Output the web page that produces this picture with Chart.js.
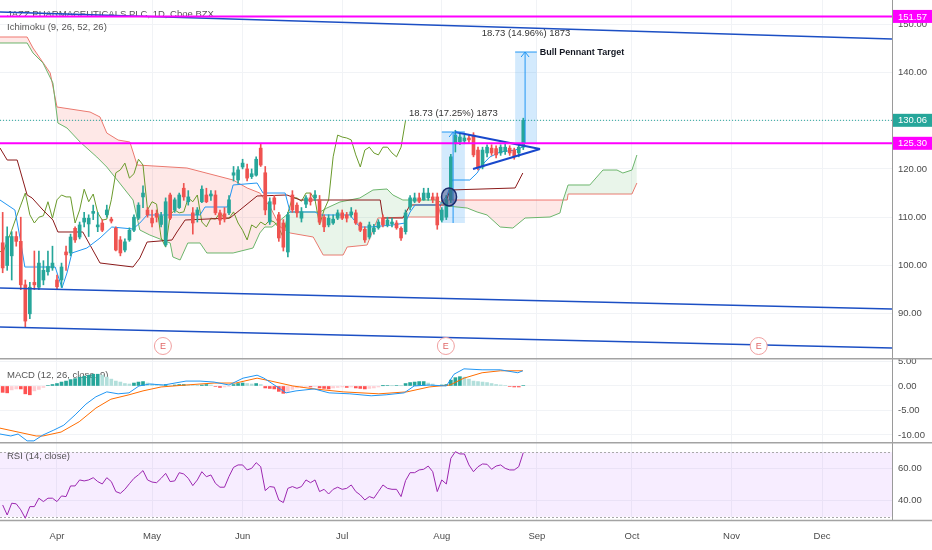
<!DOCTYPE html>
<html><head><meta charset="utf-8">
<script src="https://cdn.jsdelivr.net/npm/chart.js@4.4.0/dist/chart.umd.min.js"></script>
<style>
html,body{margin:0;padding:0;background:#fff;}
#wrap{position:relative;width:932px;height:550px;overflow:hidden;background:#fff;}
canvas{position:absolute;left:0;}
</style></head><body>
<div id="wrap">
<canvas id="cPrice" width="932" height="358" style="top:0;width:932px;height:358px"></canvas>
<canvas id="cMacd" width="932" height="84" style="top:358px;width:932px;height:84px"></canvas>
<canvas id="cRsi" width="932" height="108" style="top:442px;width:932px;height:108px"></canvas>
</div>
<script>
// ---------------- DATA ----------------
const titleText = 'JAZZ PHARMACEUTICALS PLC, 1D, Cboe BZX';
const ichimokuText = 'Ichimoku (9, 26, 52, 26)';
const macdText = 'MACD (12, 26, close, 9)';
const rsiText = 'RSI (14, close)';

const monthTickIdx = [0, 21, 41, 63, 85, 106, 127, 149, 169];
const monthLabels = ['Apr', 'May', 'Jun', 'Jul', 'Aug', 'Sep', 'Oct', 'Nov', 'Dec'];
const xMin = -12.59, xMax = 184.45;

const priceTicks = [90, 100, 110, 120, 130, 140, 150];
const macdTicks = [-10, -5, 0, 5];
const rsiTicks = [40, 60];
const rsiBand = [30, 70];

const candleStart = -12;
const opens = [104.7,100,102,106,105,96,90,96.5,95.5,97,98.7,99.5,
 97,97,102.8,102.6,107.7,105.9,109,108.6,110.8,108,
 108.8,110.5,109.6,107.7,105.3,103.2,105.3,107.3,109.8,114.2,
 111.5,109.8,110.8,108.5,104.3,114.6,111.5,112,116,113.2,
 110.9,110.5,113.2,114.6,114.4,114.6,110.9,110.7,110.9,118.7,
 117.7,120.4,120,118.4,118.7,124.3,119.2,109,114,110.5,
 108.8,102.8,114.6,112.5,109.8,112.7,114,114,113.6,110,
 108.4,108.8,109.8,110.9,110.5,110.5,110.9,108.8,107.5,105.9,
 107,107.8,109.8,108.4,108.6,108.8,107.7,107,112.1,113.3,
 114,113.6,114,114.2,114.2,109.4,110,113.6,125.2,125.6,
 125.8,126.4,127,123.9,120.4,123.3,124.3,124.2,123.3,123.6,
 124.3,123.9,123.3,124.5];
const highs = [111,108,107,107,110,97,96.5,103,103,101,103,104,
 98,100.5,104,106.5,108,109,111,110.5,112.5,111,
 109.5,112.5,110,108,106,105.5,107.8,110.5,113,116.5,
 112,111.5,111.5,111,114,115,114,115,117,115.5,
 112,112,116.5,116,115.5,115.5,111.5,112,114.5,120.5,
 120.5,122,121,120,122.5,125.2,120.5,114,114.5,111,
 109.5,111,115.5,113,112,114.5,115,115.5,114.5,110.5,
 110.5,110.5,111.5,111.5,111,112,111.5,109,108,109,
 108.5,109.5,110.5,110,109.8,109.3,108,111.5,114.5,115,
 115,116,116,115,115,112,114.5,123,128,127.5,
 127,127,127.5,124.5,124.5,125,125,124.8,125,125.2,
 124.8,124.3,125,130.5];
const lows = [98.5,99,97,104,95,87.3,89,95,95,96,98,99,
 95,95.5,99,102,104.8,105.5,108,106,109.5,107,
 107,110,108.8,103,102,102.8,105,107,109.5,112,
 110,108,109,108,104,109.5,111,111.8,113.5,112.5,
 106.5,109,113,113,113.5,110.5,108.5,109,110.5,117.5,
 117,120,117.5,118,118.5,120.5,110.5,108.5,111.5,105,
 103,101.8,111,110,109,112,112.5,113.5,108.5,107,
 108,108.5,109.5,109.5,109,110,108.5,107,104.8,105.5,
 106.5,107.5,108,108,108,107.5,105.2,106.5,111.5,113,
 113,113.5,113.5,113,107.5,109,109.5,113,123.5,125,
 125.2,125.5,122.5,119.8,120,122.5,122.8,122.3,122.8,123,
 122.8,122,122.5,124];
const closes = [99.5,106,106,105,96,88.5,95.5,96,100.5,99,99.8,100.5,
 95.6,99.7,102.2,105.9,105.3,108.4,109.8,109.8,111.2,108.4,
 107.3,111.5,109.2,103.2,102.6,104.9,107.3,110,112.5,115,
 110.5,108.8,110,110.3,113.2,109.8,113.6,114.6,114.2,114.2,
 108.8,111.5,115.8,113.2,114.8,110.9,109.4,109.6,113.6,119.2,
 119.8,121.2,118.1,119,122,120.8,111.5,113.2,112.7,105.7,
 103.8,110.5,111.5,110.9,111.1,114,113.2,114.6,109,108,
 109.8,109.6,110.9,109.8,109.8,111.1,108.8,107.3,105.3,108.4,
 107.8,109,108.4,109.4,109,107.8,105.7,110.9,114,114,
 113.3,115,115,113.6,108.4,111.5,113.6,122.5,127,126.6,
 126.4,126,122.9,120.4,123.9,124.5,123.3,122.9,124.5,124.5,
 123.3,122.5,124.5,130.06];

// Ichimoku lines read as [bar index, price] vertices
const tenkan = [[-12.6,113.56],[-9.3,111.49],[-8.2,105.9],[-7.1,99.69],[-0.4,99.69],[1.1,95.34],[2.2,98.45],[3.3,102.59],[6.6,103.62],[9.5,105.69],[12.1,107.97],[16.8,107.56],[18.3,108.8],[19.9,110.46],[31.6,110.46],[32.7,112.11],[37.6,112.11],[38.9,116.67],[44.2,117.08],[45.5,115.01],[50.4,115.01],[51.5,111.08],[57.0,111.08],[58.1,110.46],[64.7,110.46],[66.9,107.97],[69.1,107.97],[74.2,108.39],[76.9,108.8],[78.0,111.08],[79.1,112.53],[84.6,112.53],[86.2,114.6],[87.3,117.7],[91.2,117.7],[92.8,119.15],[93.9,120.81],[95.6,122.46],[97.9,123.5],[101.2,123.91],[102.9,124.53]];
const kijun = [[-12.6,124.33],[-11.0,121.84],[-8.8,121.84],[-6.6,114.6],[-5.5,113.98],[-3.1,111.49],[-0.9,109.42],[0.2,106.94],[5.7,106.94],[9.5,100.52],[16.8,99.69],[18.3,101.55],[19.9,104.86],[25.4,105.28],[26.5,106.94],[28.3,109.42],[38.2,109.83],[40.4,111.49],[44.2,114.39],[50.8,114.6],[53.7,113.56],[71.4,113.56],[72.0,109.83],[76.4,109.83],[78.0,112.53],[85.7,112.53],[86.8,115.63],[101.2,116.05],[102.9,119.15]];
const spanA = [[-12.6,146.07],[-6.6,146.07],[-5.3,144.0],[-3.1,141.93],[-0.9,137.78],[0.2,129.5],[2.2,128.47],[5.1,125.57],[8.8,122.46],[11.0,120.39],[13.3,117.7],[16.8,113.56],[18.3,107.35],[20.5,106.31],[25.0,104.66],[25.6,101.76],[27.2,101.14],[28.9,104.66],[31.6,104.66],[33.1,102.59],[38.9,102.59],[43.3,103.62],[44.8,106.73],[45.9,107.97],[47.5,107.97],[51.5,111.08],[58.1,111.08],[59.6,111.9],[62.5,113.15],[66.9,113.98],[69.8,115.63],[72.9,115.84],[74.2,114.6],[76.4,113.56],[83.9,113.56],[86.2,112.32],[90.6,111.9],[92.8,111.08],[95.0,110.46],[97.9,107.97],[100.7,107.76],[103.4,109.83],[108.9,110.04],[111.1,110.87],[111.8,113.56],[112.9,116.67],[117.7,116.67],[120.6,119.77],[123.7,119.77],[125.0,119.15],[127.0,119.77],[128.1,122.88]];
const spanB = [[-12.6,147.31],[-6.6,147.31],[-5.3,145.03],[-1.5,139.86],[0,132.82],[7.3,131.78],[9.5,130.75],[11.0,127.43],[13.5,125.98],[16.1,125.57],[17.7,120.81],[28.7,120.19],[38.9,117.7],[42.0,116.05],[44.8,115.01],[47.1,112.11],[49.3,107.97],[51.5,106.73],[56.6,105.9],[58.8,102.17],[63.2,102.17],[64.1,103.83],[68.5,104.24],[70.9,109.83],[78.0,110.04],[84.2,110.04],[85.0,113.56],[112.7,113.56],[112.9,114.8],[127.0,114.8],[128.1,117.08]];
const chikouShift = 26;

// MACD lines as [bar index, value] vertices; histogram per bar
const macdLine = [[-12.6,-9.8],[-10.2,-10.2],[-8.6,-9.8],[-6.6,-11.2],[-5.1,-11.2],[-3.1,-10],[-0.7,-9],[1.5,-8],[4.0,-5.9],[6.4,-3.7],[8.6,-2.2],[11,-1.2],[13.5,-1.6],[15.9,-1.4],[18.1,0],[20.5,0.4],[23.6,0.2],[28.5,1.0],[31.6,1.0],[34.7,0.8],[38,0.2],[41.1,1.6],[44.2,2.2],[45.7,1.6],[49,-0.4],[50.6,-1.4],[52.8,-1.0],[56.8,-0.6],[60.1,-1.4],[64.7,-1.6],[69.4,-2.0],[72.7,-1.8],[76.7,-1.4],[78.9,0],[82.2,0.2],[86,0],[87.7,2.4],[89.9,3.5],[93.9,3.3],[97.9,3.3],[101.8,2.7],[102.9,3.1]];
const signalLine = [[-12.6,-8.6],[-8.6,-9.4],[-4.6,-10.2],[-3.1,-10.2],[0.9,-9.4],[4.9,-7.3],[8.6,-4.5],[11.9,-2.7],[15.9,-1.8],[19,-1.0],[23,-0.2],[28.5,0.2],[34.7,0.6],[39.5,0.6],[44.2,1.6],[47.3,1.0],[52.1,0],[56.8,-0.6],[63.2,-1.2],[71.1,-1.6],[77.3,-1.2],[82.2,-0.2],[86.8,0.2],[89.9,1.6],[93.9,2.7],[97.9,3.1],[102.9,3.1]];
const hist = [-1.3,-1.4,-0.8,-0.6,-0.6,-1.6,-1.8,-1.0,-0.7,-0.3,0.1,0.3,
 0.5,0.8,1.0,1.3,1.5,1.8,2.0,2.2,2.4,2.4,
 2.2,1.8,1.4,1.0,0.8,0.5,0.4,0.6,0.8,0.9,
 0.6,0.4,0.3,0.2,0.3,0.1,0.2,0.3,0.3,0.2,
 0.1,0.05,0.2,0.3,0.2,-0.1,-0.3,-0.2,-0.1,0.3,
 0.5,0.6,0.5,0.4,0.5,0.3,-0.4,-0.5,-0.6,-1.1,
 -1.5,-1.1,-0.7,-0.4,-0.3,-0.1,-0.2,-0.1,-0.4,-0.5,
 -0.6,-0.4,-0.3,-0.2,-0.3,-0.2,-0.4,-0.5,-0.6,-0.5,
 -0.4,-0.2,0.05,0.1,0.05,0.1,0.05,0.5,0.7,0.8,
 0.9,0.9,0.6,0.4,0.1,0.2,0.3,1.2,1.7,1.9,
 1.8,1.4,1.0,0.9,0.8,0.7,0.5,0.3,0.2,0.1,
 -0.1,-0.2,-0.2,0.1];
const rsi = [37.3,31.1,38.4,38.0,34.3,29.1,36.3,36.3,41.5,39.4,41.5,41.5,
 39.4,42.9,42.5,49.1,49.1,52.8,52.2,52.8,54.2,51.8,
 50.3,54.2,51.8,45.6,44.5,47.0,50.5,53.8,56.0,58.6,
 52.8,51.5,51.1,53.8,56.9,51.8,52.2,57.3,56.5,53.8,
 49.3,52.8,57.9,54.8,55.9,50.7,48.3,48.3,55.0,60.6,
 62.1,62.1,59.0,60.0,63.5,61.0,46.2,48.7,48.3,40.4,
 38.8,47.6,48.7,47.6,48.7,52.8,51.1,52.8,45.6,47.0,
 44.1,47.0,48.3,47.0,47.6,49.7,45.6,43.5,40.4,42.5,
 41.5,45.6,49.7,47.6,47.0,47.0,42.5,52.4,57.3,57.3,
 59.0,59.4,61.4,57.9,45.6,52.8,50.3,66.2,70.3,68.9,
 68.9,62.1,57.9,61.0,62.7,62.5,59.4,61.4,62.1,60.0,
 59.0,59.0,61.0,69.7];

// Drawings (in bar index / price units)
const levels = [151.57, 125.30];
const lastPrice = 130.06;
const channels = [[[-12.59,152.5],[184.45,146.9]], [[-12.59,95.34],[184.45,91.0]], [[-12.59,87.27],[184.45,82.92]]];
const pennantTop = [[87.9,127.64],[106.7,124.12]];
const pennantBottom = [[91.9,119.98],[106.7,124.12]];
const measureRects = [[85.0,90.1,108.8,127.64],[101.2,106.0,125.36,144.2]];
const measureArrowIdx = [87.5, 103.4];
const measureLabels = ['18.73 (17.25%) 1873', '18.73 (14.96%) 1873'];
const targetLabel = 'Bull Pennant Target';
const circleMark = [86.6, 114.2];
const earningsIdx = [23.4, 85.9, 155.0];

// ---------------- STYLE / HELPERS ----------------
const FONT = '"Liberation Sans", Arial, sans-serif';
const GRID = '#f1f3f6';
const AXIS_TXT = '#4b4b4b';
const GREEN = '#26a69a', RED = '#ef5350';
const candleIdx = closes.map((_, k) => candleStart + k);
const P = arr => arr.map(p => ({x: p[0], y: p[1]}));
const lineDS = (data, color, width, extra) => Object.assign({type: 'line', data, borderColor: color, borderWidth: width, pointRadius: 0, fill: false, tension: 0}, extra || {});

function xAxis(showLabels) {
  return {
    type: 'linear', min: xMin, max: xMax, offset: false,
    grid: {color: GRID, drawTicks: false, offset: false},
    border: {display: false},
    afterBuildTicks: s => { s.ticks = monthTickIdx.map(v => ({value: v})); },
    afterFit: s => { s.height = showLabels ? 30 : 0; s.paddingLeft = 0; s.paddingRight = 0; },
    ticks: {display: showLabels, autoSkip: false, maxRotation: 0, padding: 11, color: AXIS_TXT,
      font: {family: FONT, size: 9.5},
      callback: v => { const k = monthTickIdx.indexOf(v); return k >= 0 ? monthLabels[k] : ''; }}
  };
}
function yAxis(min, max, ticks) {
  return {
    position: 'right', min, max,
    grid: {color: GRID, drawTicks: false},
    border: {display: true, color: '#9a9a9a'},
    afterBuildTicks: s => { s.ticks = ticks.map(v => ({value: v})); },
    afterFit: s => { s.width = 40; s.paddingTop = 0; s.paddingBottom = 0; },
    ticks: {padding: 6, color: AXIS_TXT, font: {family: FONT, size: 9.5}, callback: v => Number(v).toFixed(2)}
  };
}
const common = {
  responsive: false, maintainAspectRatio: false, animation: false, events: [],
  layout: {padding: 0},
  plugins: {legend: {display: false}, tooltip: {enabled: false}}
};
function separator(ctx, y) {
  ctx.save(); ctx.strokeStyle = '#a3a3a3'; ctx.lineWidth = 1.5;
  ctx.beginPath(); ctx.moveTo(0, y); ctx.lineTo(932, y); ctx.stroke(); ctx.restore();
}
function paneTitle(ctx, text, y) {
  ctx.save(); ctx.font = '9.5px ' + FONT; ctx.fillStyle = '#555'; ctx.textBaseline = 'middle';
  ctx.fillText(text, 7, y); ctx.restore();
}

// ---------------- PRICE PANE ----------------
const candleColor = c => closes[c.dataIndex] >= opens[c.dataIndex] ? GREEN : RED;
const priceDrawings = {
  id: 'priceDrawings',
  beforeDatasetsDraw(chart) {
    const {ctx, scales: {x, y}} = chart;
    ctx.save();
    ctx.fillStyle = 'rgba(33,150,243,0.2)';
    measureRects.forEach(r => {
      const x1 = x.getPixelForValue(r[0]), x2 = x.getPixelForValue(r[1]);
      const y1 = y.getPixelForValue(r[3]), y2 = y.getPixelForValue(r[2]);
      ctx.fillRect(x1, y1, x2 - x1, y2 - y1);
    });
    ctx.restore();
    paneTitle(ctx, titleText, 14);
    paneTitle(ctx, ichimokuText, 27);
  },
  afterDatasetsDraw(chart) {
    const {ctx, chartArea: a, scales: {x, y}} = chart;
    ctx.save();
    ctx.strokeStyle = '#2196f3'; ctx.lineWidth = 1;
    measureRects.forEach((r, k) => {
      const x1 = x.getPixelForValue(r[0]), x2 = x.getPixelForValue(r[1]);
      const top = y.getPixelForValue(r[3]), bot = y.getPixelForValue(r[2]);
      const ax = x.getPixelForValue(measureArrowIdx[k]);
      ctx.beginPath(); ctx.moveTo(x1, top); ctx.lineTo(x2, top); ctx.stroke();
      ctx.beginPath(); ctx.moveTo(ax, bot); ctx.lineTo(ax, top); ctx.stroke();
      ctx.beginPath(); ctx.moveTo(ax - 4, top + 5); ctx.lineTo(ax, top); ctx.lineTo(ax + 4, top + 5); ctx.stroke();
      ctx.font = '9.5px ' + FONT; ctx.fillStyle = '#333'; ctx.textAlign = 'center'; ctx.textBaseline = 'middle';
      ctx.fillText(measureLabels[k], (x1 + x2) / 2, top - 19);
    });
    const r2 = measureRects[1];
    ctx.font = 'bold 9px ' + FONT; ctx.fillStyle = '#131722'; ctx.textAlign = 'left'; ctx.textBaseline = 'middle';
    ctx.fillText(targetLabel, x.getPixelForValue(r2[1]) + 3, y.getPixelForValue(r2[3]));
    ctx.beginPath();
    ctx.ellipse(x.getPixelForValue(circleMark[0]), y.getPixelForValue(circleMark[1]), 7.5, 9, 0, 0, Math.PI * 2);
    ctx.fillStyle = 'rgba(60,72,130,0.5)'; ctx.fill();
    ctx.strokeStyle = '#1a2a6c'; ctx.lineWidth = 1.5; ctx.stroke();
    earningsIdx.forEach(i => {
      const ex = x.getPixelForValue(i), ey = a.bottom - 12;
      ctx.beginPath(); ctx.arc(ex, ey, 8.5, 0, Math.PI * 2);
      ctx.fillStyle = '#fff'; ctx.fill(); ctx.strokeStyle = '#f0a0a0'; ctx.lineWidth = 1; ctx.stroke();
      ctx.fillStyle = '#e06666'; ctx.font = '9px ' + FONT; ctx.textAlign = 'center'; ctx.textBaseline = 'middle';
      ctx.fillText('E', ex, ey + 0.5);
    });
    ctx.restore();
  },
  afterDraw(chart) {
    const {ctx, chartArea: a, scales: {y}} = chart;
    const marks = [[levels[0], '#ff00ff'], [lastPrice, '#26a69a'], [levels[1], '#ff00ff']];
    ctx.save();
    marks.forEach(m => {
      const yy = y.getPixelForValue(m[0]);
      ctx.fillStyle = m[1]; ctx.fillRect(a.right + 1, yy - 6.5, 39, 13);
      ctx.fillStyle = '#fff'; ctx.font = '9.5px ' + FONT; ctx.textAlign = 'left'; ctx.textBaseline = 'middle';
      ctx.fillText(m[0].toFixed(2), a.right + 6, yy + 0.5);
    });
    ctx.restore();
  }
};

new Chart(document.getElementById('cPrice'), {
  type: 'bar',
  data: {datasets: [
    lineDS(P([[xMin, levels[0]], [xMax, levels[0]]]), '#ff00ff', 2),
    lineDS(P([[xMin, levels[1]], [xMax, levels[1]]]), '#ff00ff', 2),
    ...channels.map(c => lineDS(P(c), '#1c4fc4', 1.5)),
    lineDS(P(pennantTop), '#1848cc', 2),
    lineDS(P(pennantBottom), '#1848cc', 2),
    lineDS(P([[xMin, lastPrice], [xMax, lastPrice]]), '#26a69a', 1, {borderDash: [1, 2]}),
    {type: 'bar', data: candleIdx.map((xv, k) => ({x: xv, y: [opens[k], closes[k]]})), backgroundColor: candleColor, barThickness: 3, grouped: false, borderWidth: 0},
    {type: 'bar', data: candleIdx.map((xv, k) => ({x: xv, y: [lows[k], highs[k]]})), backgroundColor: candleColor, barThickness: 1, grouped: false, borderWidth: 0},
    lineDS(P(tenkan), '#2196f3', 1),
    lineDS(P(kijun), '#8b1a1a', 1),
    lineDS(closes.map((c, k) => ({x: candleIdx[k] - chikouShift, y: c})), '#6a9a2b', 1),
    lineDS(P(spanA), '#6cb56c', 1, {fill: {target: '+1', above: 'rgba(76,175,80,0.12)', below: 'rgba(244,67,54,0.12)'}}),
    lineDS(P(spanB), '#ef7b73', 1)
  ]},
  options: Object.assign({}, common, {
    scales: {x: xAxis(false), y: yAxis(80.85, 154.97, priceTicks)}
  }),
  plugins: [priceDrawings]
});

// ---------------- MACD PANE ----------------
const histColor = c => {
  const k = c.dataIndex, h = hist[k], prev = k > 0 ? hist[k - 1] : h;
  if (h >= 0) return h >= prev ? '#26a69a' : '#b2dfdb';
  return h <= prev ? '#ff5252' : '#ffcdd2';
};
new Chart(document.getElementById('cMacd'), {
  type: 'bar',
  data: {datasets: [
    lineDS(P(macdLine), '#2196f3', 1),
    lineDS(P(signalLine), '#ff6d00', 1),
    {type: 'bar', data: candleIdx.map((xv, k) => ({x: xv, y: hist[k]})), backgroundColor: histColor, barThickness: 3, grouped: false, borderWidth: 0}
  ]},
  options: Object.assign({}, common, {
    scales: {x: xAxis(false), y: yAxis(-11.43, 5.71, macdTicks)}
  }),
  plugins: [{
    id: 'macdDeco',
    beforeDatasetsDraw(chart) { paneTitle(chart.ctx, macdText, 17); },
    afterDraw(chart) { separator(chart.ctx, 0.75); }
  }]
});

// ---------------- RSI PANE ----------------
new Chart(document.getElementById('cRsi'), {
  type: 'line',
  data: {datasets: [
    lineDS(candleIdx.map((xv, k) => ({x: xv, y: rsi[k]})), '#9c27b0', 1)
  ]},
  options: Object.assign({}, common, {
    scales: {x: xAxis(true), y: yAxis(28.0, 76.3, rsiTicks)}
  }),
  plugins: [{
    id: 'rsiDeco',
    beforeDatasetsDraw(chart) {
      const {ctx, chartArea: a, scales: {y}} = chart;
      const yTop = y.getPixelForValue(rsiBand[1]), yBot = y.getPixelForValue(rsiBand[0]);
      ctx.save();
      ctx.fillStyle = 'rgba(153,21,255,0.08)';
      ctx.fillRect(a.left, yTop, a.right - a.left, yBot - yTop);
      ctx.strokeStyle = '#aaa'; ctx.lineWidth = 1; ctx.setLineDash([2, 2]);
      [yTop, yBot].forEach(yy => { ctx.beginPath(); ctx.moveTo(a.left, Math.round(yy) + 0.5); ctx.lineTo(a.right, Math.round(yy) + 0.5); ctx.stroke(); });
      ctx.restore();
      paneTitle(ctx, rsiText, 14);
    },
    afterDraw(chart) {
      separator(chart.ctx, 0.75);
      separator(chart.ctx, chart.chartArea.bottom + 0.5);
    }
  }]
});
</script>
</body></html>
